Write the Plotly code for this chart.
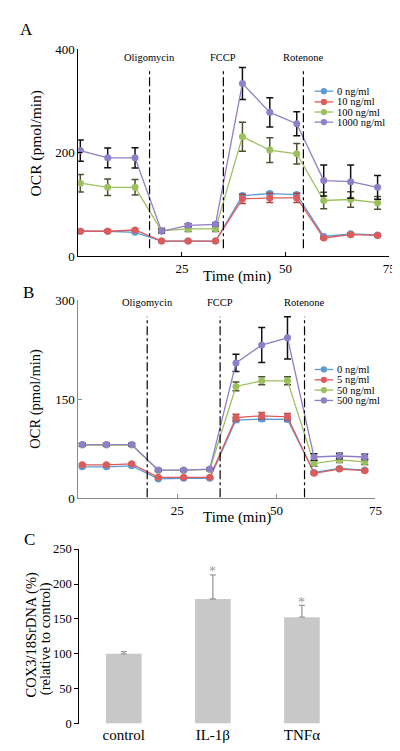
import plotly.graph_objects as go

W, H = 400, 751
FONT = "Liberation Serif"

# ---------------- data ----------------
time_a = [0.5, 7.1, 13.7, 20.1, 26.5, 33.1, 39.6, 46.2, 52.7, 59.2, 65.7, 72.2]
time_b = [1.0, 7.1, 13.5, 20.2, 26.6, 33.2, 39.8, 46.3, 52.8, 59.5, 65.9, 72.3]

a_labels = ["0 ng/ml", "10 ng/ml", "100 ng/ml", "1000 ng/ml"]
a_0 = [48, 48, 46, 29, 29, 29, 117, 121, 119, 38, 43, 41]
a_0_err = [2, 2, 2, 1, 1, 1, 3, 3, 3, 2, 2, 2]
a_10 = [48, 48, 50.5, 29, 29, 29, 110.5, 112.5, 112.5, 35, 41.5, 40]
a_10_err = [2, 2, 2, 1, 1, 1, 9, 9, 9, 2, 2, 2]
a_100 = [141, 133, 133, 49, 52.5, 52.5, 231, 205, 198, 107.5, 109.5, 103]
a_100_err = [17, 16, 15, 5, 5, 5, 28, 24, 20, 16, 15, 12.5]
a_1000 = [204, 190, 190, 48, 59.5, 61.5, 334, 278, 256, 146, 144, 133]
a_1000_err = [20.5, 19, 19.5, 3, 3, 3, 31, 28.5, 23, 30, 32, 23]

b_labels = ["0 ng/ml", "5 ng/ml", "50 ng/ml", "500 ng/ml"]
b_0 = [47.5, 47.5, 49, 29.2, 30.2, 30.2, 118.4, 119.8, 119.3, 39, 45, 42.6]
b_0_err = [1.5, 1.5, 1.5, 1, 1, 1, 3, 3, 3, 1.5, 1.5, 1.5]
b_5 = [50.5, 50.5, 52, 31.6, 31.6, 31.6, 122.2, 124.8, 123.3, 37.6, 44.1, 41.6]
b_5_err = [1.5, 1.5, 1.5, 1, 1, 1, 5, 5, 5, 1.5, 1.5, 1.5]
b_50 = [80.5, 80.5, 80.5, 42, 42, 43.5, 169.3, 177.8, 177.8, 52.4, 57.9, 55]
b_50_err = [2, 2, 2, 1.5, 1.5, 1.5, 6.7, 6, 6, 4, 4, 4]
b_500 = [81.2, 81.2, 81.2, 42.6, 42.6, 44.1, 205, 232, 243, 62.4, 63.9, 62.4]
b_500_err = [2, 2, 2, 1.5, 1.5, 1.5, 13, 26.5, 32, 5, 4, 4]

injections = ["Oligomycin", "FCCP", "Rotenone"]
inject_a = [17.2, 35.0, 54.3]
inject_b = [17.4, 35.8, 57.1]

a_yticks = [0, 200, 400]
a_xticks = [25, 50, 75]
b_yticks = [0, 150, 300]
b_xticks = [25, 50, 75]

c_categories = ["control", "IL-1\u03b2", "TNF\u03b1"]
c_values = [100, 178.5, 152.5]
c_err = [3, 34.5, 17]
c_signif = [False, True, True]
c_yticks = [0, 50, 100, 150, 200, 250]

# ---------------- style ----------------
colors = ["#5b9bd5", "#dc5c5c", "#9cc05e", "#8f7fc6"]
err_colors = ["#4a78b0", "#a84646", "#4f4f36", "#111111"]


def px(x, y):
    return x / W, 1 - y / H


fig = go.Figure()

panels = [
    ("x", "y", time_a, [a_0, a_10, a_100, a_1000], [a_0_err, a_10_err, a_100_err, a_1000_err], a_labels),
    ("x2", "y2", time_b, [b_0, b_5, b_50, b_500], [b_0_err, b_5_err, b_50_err, b_500_err], b_labels),
]
for xa, ya, tt, series, errs, labels in panels:
    for i, (vals, ee) in enumerate(zip(series, errs)):
        fig.add_trace(go.Scatter(
            x=tt, y=vals, xaxis=xa, yaxis=ya, mode="lines+markers",
            name=labels[i], showlegend=False,
            line=dict(color=colors[i], width=1.3),
            marker=dict(color=colors[i], size=7),
            error_y=dict(type="data", array=ee, visible=True,
                         color=err_colors[i], thickness=1.5, width=3.5),
        ))

fig.add_trace(go.Bar(
    x=c_categories, y=c_values, xaxis="x3", yaxis="y3", width=0.4,
    marker=dict(color="#c8c8c8", line=dict(width=0)), showlegend=False,
    error_y=dict(type="data", array=c_err, arrayminus=[0, 0, 0], symmetric=False,
                 visible=True, color="#9a9a9a", thickness=1.3, width=3),
))

shapes = []
annotations = []

# injection lines + labels
for xr, yr, times, y0, y1, ylab in [("x", "y", inject_a, 15, 362, 385), ("x2", "y2", inject_b, 1.5, 275, 297)]:
    for name, t in zip(injections, times):
        shapes.append(dict(type="line", xref=xr, yref=yr, x0=t, x1=t, y0=y0, y1=y1,
                           line=dict(color="black", width=1.2, dash="dashdot")))
        annotations.append(dict(text=name, xref=xr, yref=yr, x=t, y=ylab, showarrow=False,
                                font=dict(family=FONT, size=10.5, color="black"),
                                xanchor="center", yanchor="middle"))

# manual legends
for rows, labels in [([77.7, 88.7, 99, 109.3], a_labels), ([361.7, 372.3, 382.7, 393.3], b_labels)]:
    for i, (ry, lab) in enumerate(zip(rows, labels)):
        x0, yy = px(312, ry)
        x1, _ = px(331, ry)
        shapes.append(dict(type="line", xref="paper", yref="paper", x0=x0, x1=x1, y0=yy, y1=yy,
                           line=dict(color=colors[i], width=1.3)))
        cx0, cy0 = px(321.5 - 3.2, ry - 3.2)
        cx1, cy1 = px(321.5 + 3.2, ry + 3.2)
        shapes.append(dict(type="circle", xref="paper", yref="paper", x0=cx0, x1=cx1, y0=cy1, y1=cy0,
                           fillcolor=colors[i], line=dict(width=0)))
        tx, ty = px(333, ry)
        annotations.append(dict(text=lab, xref="paper", yref="paper", x=tx, y=ty, showarrow=False,
                                xanchor="left", yanchor="middle",
                                font=dict(family=FONT, size=10.5, color="black")))

# asterisks
for cat, v, e, s in zip(c_categories, c_values, c_err, c_signif):
    if s:
        annotations.append(dict(text="*", xref="x3", yref="y3", x=cat, y=v + e, showarrow=False,
                                xanchor="center", yanchor="middle", yshift=3,
                                font=dict(family=FONT, size=14, color="#9a9a9a")))


def ann_px(text, x, y, size, angle=0, anchor="center"):
    ax, ay = px(x, y)
    annotations.append(dict(text=text, xref="paper", yref="paper", x=ax, y=ay, showarrow=False,
                            xanchor=anchor, yanchor="middle", textangle=angle,
                            font=dict(family=FONT, size=size, color="black")))


ann_px("A", 19, 15, 17)
ann_px("B", 21, 283, 17)
ann_px("C", 22, 535, 17)
ann_px("OCR (pmol/min)", 28, 131.5, 15.5, -90)
ann_px("OCR (pmol/min)", 28, 392, 14.5, -90)
ann_px("Time (min)", 233, 267, 15)
ann_px("Time (min)", 233, 513, 15)
ann_px("COX3/18SrDNA (%)", 23.5, 633, 14.5, -90)
ann_px("(relative to control)", 37.5, 636, 14.5, -90)

tickfont = dict(family=FONT, size=13, color="black")
common = dict(showgrid=False, zeroline=False, showline=True, linewidth=1,
              ticks="inside", ticklen=4, tickfont=tickfont)

fig.update_layout(
    width=W, height=H, margin=dict(l=0, r=0, t=0, b=0),
    paper_bgcolor="white", plot_bgcolor="white",
    font=dict(family=FONT, color="black"),
    shapes=shapes, annotations=annotations, showlegend=False,
    xaxis=dict(domain=[71.5 / W, 388 / W], range=[0, 75], tickvals=a_xticks,
               linecolor="black", tickcolor="black", anchor="y", **common),
    yaxis=dict(domain=[1 - 246 / H, 1 - 35 / H], range=[0, 400], tickvals=a_yticks,
               linecolor="black", tickcolor="black", anchor="x", **common),
    xaxis2=dict(domain=[71.5 / W, 374 / W], range=[0, 75], tickvals=b_xticks,
                linecolor="#8a8a8a", tickcolor="#8a8a8a", anchor="y2", **common),
    yaxis2=dict(domain=[1 - 493 / H, 1 - 291 / H], range=[0, 300], tickvals=b_yticks,
                linecolor="#8a8a8a", tickcolor="#8a8a8a", anchor="x2", **common),
    xaxis3=dict(domain=[72.5 / W, 344.5 / W], range=[-0.5, 2.5], showline=False, showgrid=False,
                zeroline=False, ticks="", tickfont=dict(family=FONT, size=15, color="black"),
                anchor="y3"),
    yaxis3=dict(domain=[1 - 723 / H, 1 - 545 / H], range=[0, 250], tickvals=c_yticks,
                showgrid=False, zeroline=False, showline=True, linecolor="black", linewidth=1,
                ticks="outside", ticklen=4, tickcolor="black", anchor="x3",
                tickfont=dict(family=FONT, size=12.5, color="black")),
)

fig.write_html("out.html")
